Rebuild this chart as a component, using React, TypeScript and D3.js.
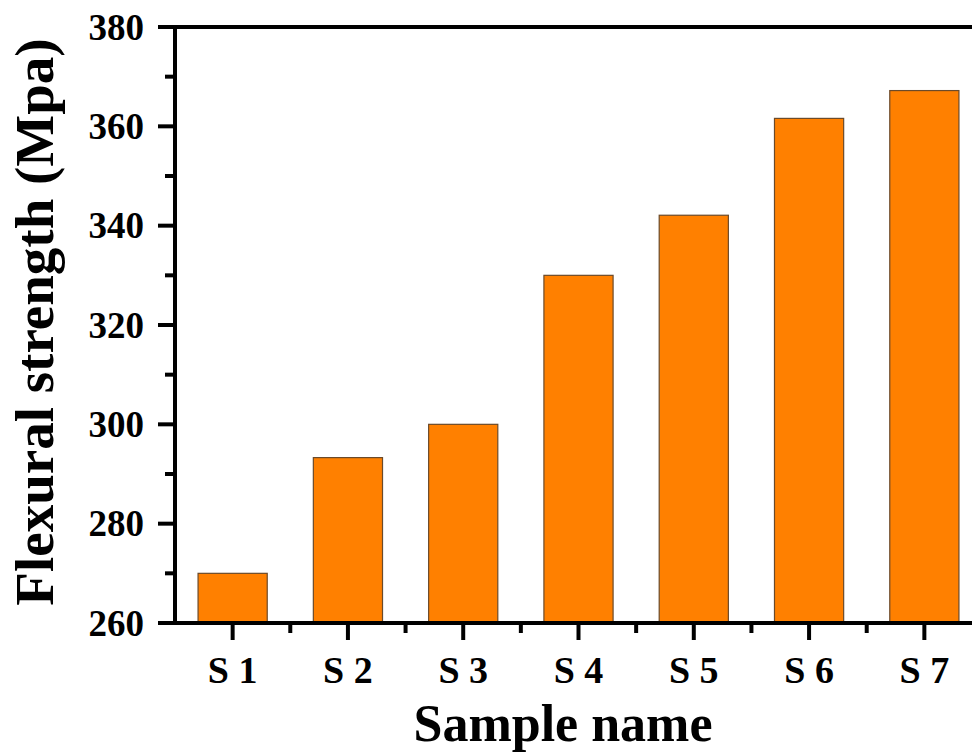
import React from "react";
import * as d3 from "d3";

const categories = ["S 1", "S 2", "S 3", "S 4", "S 5", "S 6", "S 7"];
const values = [270, 293.3, 300, 330, 342.1, 361.6, 367.2];
const yMajorTicks = [260, 280, 300, 320, 340, 360, 380];
const yMinorTicks = [270, 290, 310, 330, 350, 370];
const xTitle = "Sample name";
const yTitle = "Flexural strength (Mpa)";

export default function App() {
  const W = 972, H = 754;
  const left = 175, right = 982, top = 27, bottom = 623;
  const x = d3.scaleBand<string>().domain(categories).range([left, right]).paddingInner(0.4).paddingOuter(0.2);
  const xc = d3.scaleBand<string>().domain(categories).range([left, right]);
  const y = d3.scaleLinear().domain([260, 380]).range([bottom, top]);
  const font = "'Liberation Serif', 'Times New Roman', serif";
  const lw = 4;
  return (
    <svg width={W} height={H} style={{ position: "fixed", left: 0, top: 0, background: "#fff" }} fontFamily={font}>
      {categories.map((c, i) => (
        <rect key={c} x={x(c)} y={y(values[i])} width={x.bandwidth()} height={y(260) - y(values[i])}
          fill="#FF8000" stroke="#6b4a2a" strokeWidth={1.2} />
      ))}
      {/* frame */}
      <line x1={left} x2={right} y1={top} y2={top} stroke="#000" strokeWidth={lw} />
      <line x1={right} x2={right} y1={top} y2={bottom} stroke="#000" strokeWidth={lw} />
      <line x1={left} x2={left} y1={top - lw / 2} y2={bottom + lw / 2} stroke="#000" strokeWidth={lw} />
      <line x1={left} x2={right} y1={bottom} y2={bottom} stroke="#000" strokeWidth={lw} />
      {/* y ticks */}
      {yMajorTicks.map((t) => (
        <g key={t}>
          <line x1={left - 17} x2={left} y1={y(t)} y2={y(t)} stroke="#000" strokeWidth={lw} />
          <text x={left - 31} y={y(t)} dy="0.34em" textAnchor="end" fontSize={37} fontWeight="bold">{t}</text>
        </g>
      ))}
      {yMinorTicks.map((t) => (
        <line key={t} x1={left - 10} x2={left} y1={y(t)} y2={y(t)} stroke="#000" strokeWidth={lw} />
      ))}
      {/* x ticks */}
      {categories.map((c, i) => {
        const cx = (xc(c) as number) + xc.bandwidth() / 2;
        const bx = (xc(c) as number) + xc.bandwidth();
        return (
          <g key={c}>
            <line x1={cx} x2={cx} y1={bottom} y2={bottom + 17} stroke="#000" strokeWidth={lw} />
            {i < categories.length - 1 && (
              <line x1={bx} x2={bx} y1={bottom} y2={bottom + 10} stroke="#000" strokeWidth={lw} />
            )}
            <text x={cx} y={683} textAnchor="middle" fontSize={38} fontWeight="bold">{c}</text>
          </g>
        );
      })}
      <text x={(412 + 714) / 2} y={741} textAnchor="middle" fontSize={52} fontWeight="bold">{xTitle}</text>
      <text transform={`translate(53, 322) rotate(-90)`} textAnchor="middle" fontSize={55} fontWeight="bold">{yTitle}</text>
    </svg>
  );
}
